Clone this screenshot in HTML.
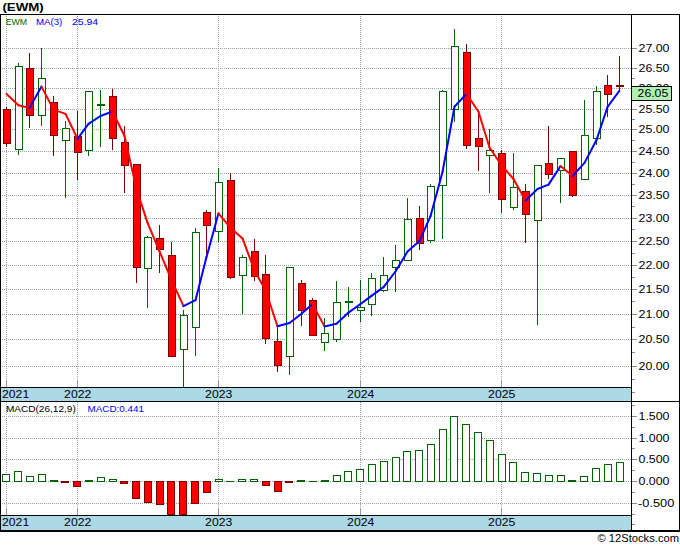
<!DOCTYPE html>
<html><head><meta charset="utf-8"><title>EWM</title>
<style>html,body{margin:0;padding:0;background:#fff;}body{width:680px;height:546px;position:relative;overflow:hidden;font-family:"Liberation Sans",sans-serif;}</style>
</head><body>
<svg width="680" height="546" viewBox="0 0 680 546" style="position:absolute;left:0;top:0" font-family="Liberation Sans, sans-serif">
<defs>
<pattern id="hd" width="2" height="1" patternUnits="userSpaceOnUse"><rect x="0" y="0" width="1" height="1" fill="#a0a0a0"/></pattern>
<pattern id="vd" width="1" height="2" patternUnits="userSpaceOnUse"><rect x="0" y="0" width="1" height="1" fill="#a0a0a0"/></pattern>
<clipPath id="cm"><rect x="1" y="15" width="630" height="372"/></clipPath>
<clipPath id="cd"><rect x="1" y="402" width="630" height="113"/></clipPath>
</defs>
<rect width="680" height="546" fill="#fff"/>
<g shape-rendering="crispEdges">
<rect x="1" y="48" width="630" height="1" fill="url(#hd)"/>
<rect x="1" y="68" width="630" height="1" fill="url(#hd)"/>
<rect x="1" y="88" width="630" height="1" fill="url(#hd)"/>
<rect x="1" y="109" width="630" height="1" fill="url(#hd)"/>
<rect x="1" y="129" width="630" height="1" fill="url(#hd)"/>
<rect x="1" y="151" width="630" height="1" fill="url(#hd)"/>
<rect x="1" y="173" width="630" height="1" fill="url(#hd)"/>
<rect x="1" y="195" width="630" height="1" fill="url(#hd)"/>
<rect x="1" y="218" width="630" height="1" fill="url(#hd)"/>
<rect x="1" y="241" width="630" height="1" fill="url(#hd)"/>
<rect x="1" y="265" width="630" height="1" fill="url(#hd)"/>
<rect x="1" y="289" width="630" height="1" fill="url(#hd)"/>
<rect x="1" y="314" width="630" height="1" fill="url(#hd)"/>
<rect x="1" y="339" width="630" height="1" fill="url(#hd)"/>
<rect x="1" y="366" width="630" height="1" fill="url(#hd)"/>
<rect x="6" y="15" width="1" height="372" fill="url(#vd)"/>
<rect x="6" y="402" width="1" height="113" fill="url(#vd)"/>
<rect x="6" y="381" width="1" height="6" fill="#9a9a9a"/>
<rect x="6" y="509" width="1" height="6" fill="#9a9a9a"/>
<rect x="77" y="15" width="1" height="372" fill="url(#vd)"/>
<rect x="77" y="402" width="1" height="113" fill="url(#vd)"/>
<rect x="77" y="381" width="1" height="6" fill="#9a9a9a"/>
<rect x="77" y="509" width="1" height="6" fill="#9a9a9a"/>
<rect x="218" y="15" width="1" height="372" fill="url(#vd)"/>
<rect x="218" y="402" width="1" height="113" fill="url(#vd)"/>
<rect x="218" y="381" width="1" height="6" fill="#9a9a9a"/>
<rect x="218" y="509" width="1" height="6" fill="#9a9a9a"/>
<rect x="360" y="15" width="1" height="372" fill="url(#vd)"/>
<rect x="360" y="402" width="1" height="113" fill="url(#vd)"/>
<rect x="360" y="381" width="1" height="6" fill="#9a9a9a"/>
<rect x="360" y="509" width="1" height="6" fill="#9a9a9a"/>
<rect x="501" y="15" width="1" height="372" fill="url(#vd)"/>
<rect x="501" y="402" width="1" height="113" fill="url(#vd)"/>
<rect x="501" y="381" width="1" height="6" fill="#9a9a9a"/>
<rect x="501" y="509" width="1" height="6" fill="#9a9a9a"/>
<rect x="1" y="416" width="630" height="1" fill="url(#hd)"/>
<rect x="1" y="438" width="630" height="1" fill="url(#hd)"/>
<rect x="1" y="459" width="630" height="1" fill="url(#hd)"/>
<rect x="1" y="481" width="630" height="1" fill="url(#hd)"/>
<rect x="1" y="503" width="630" height="1" fill="url(#hd)"/>
<rect x="1" y="388" width="630" height="13" fill="#add8e6"/>
<rect x="1" y="516" width="630" height="14" fill="#add8e6"/>
<rect x="0" y="14" width="680" height="1" fill="#000"/>
<rect x="0" y="14" width="1" height="517" fill="#000"/>
<rect x="679" y="14" width="1" height="517" fill="#000"/>
<rect x="631" y="14" width="1" height="517" fill="#000"/>
<rect x="0" y="387" width="632" height="1" fill="#000"/>
<rect x="0" y="401" width="680" height="1" fill="#000"/>
<rect x="0" y="515" width="632" height="1" fill="#000"/>
<rect x="0" y="530" width="680" height="2" fill="#000"/>
<rect x="632" y="48" width="5" height="1" fill="#8c8c8c"/>
<rect x="632" y="68" width="5" height="1" fill="#8c8c8c"/>
<rect x="632" y="88" width="5" height="1" fill="#8c8c8c"/>
<rect x="632" y="109" width="5" height="1" fill="#8c8c8c"/>
<rect x="632" y="129" width="5" height="1" fill="#8c8c8c"/>
<rect x="632" y="151" width="5" height="1" fill="#8c8c8c"/>
<rect x="632" y="173" width="5" height="1" fill="#8c8c8c"/>
<rect x="632" y="195" width="5" height="1" fill="#8c8c8c"/>
<rect x="632" y="218" width="5" height="1" fill="#8c8c8c"/>
<rect x="632" y="241" width="5" height="1" fill="#8c8c8c"/>
<rect x="632" y="265" width="5" height="1" fill="#8c8c8c"/>
<rect x="632" y="289" width="5" height="1" fill="#8c8c8c"/>
<rect x="632" y="314" width="5" height="1" fill="#8c8c8c"/>
<rect x="632" y="339" width="5" height="1" fill="#8c8c8c"/>
<rect x="632" y="366" width="5" height="1" fill="#8c8c8c"/>
<rect x="632" y="78" width="3" height="1" fill="#8c8c8c"/>
<rect x="632" y="98" width="3" height="1" fill="#8c8c8c"/>
<rect x="632" y="119" width="3" height="1" fill="#8c8c8c"/>
<rect x="632" y="140" width="3" height="1" fill="#8c8c8c"/>
<rect x="632" y="162" width="3" height="1" fill="#8c8c8c"/>
<rect x="632" y="184" width="3" height="1" fill="#8c8c8c"/>
<rect x="632" y="206" width="3" height="1" fill="#8c8c8c"/>
<rect x="632" y="229" width="3" height="1" fill="#8c8c8c"/>
<rect x="632" y="253" width="3" height="1" fill="#8c8c8c"/>
<rect x="632" y="277" width="3" height="1" fill="#8c8c8c"/>
<rect x="632" y="301" width="3" height="1" fill="#8c8c8c"/>
<rect x="632" y="327" width="3" height="1" fill="#8c8c8c"/>
<rect x="632" y="352" width="3" height="1" fill="#8c8c8c"/>
<rect x="632" y="379" width="3" height="1" fill="#8c8c8c"/>
<rect x="632" y="392" width="3" height="1" fill="#8c8c8c"/>
<rect x="632" y="416" width="5" height="1" fill="#8c8c8c"/>
<rect x="632" y="438" width="5" height="1" fill="#8c8c8c"/>
<rect x="632" y="459" width="5" height="1" fill="#8c8c8c"/>
<rect x="632" y="481" width="5" height="1" fill="#8c8c8c"/>
<rect x="632" y="503" width="5" height="1" fill="#8c8c8c"/>
<rect x="632" y="405" width="3" height="1" fill="#8c8c8c"/>
<rect x="632" y="427" width="3" height="1" fill="#8c8c8c"/>
<rect x="632" y="448" width="3" height="1" fill="#8c8c8c"/>
<rect x="632" y="470" width="3" height="1" fill="#8c8c8c"/>
<rect x="632" y="492" width="3" height="1" fill="#8c8c8c"/>
<rect x="632" y="514" width="3" height="1" fill="#8c8c8c"/>
<rect x="632" y="524" width="3" height="1" fill="#8c8c8c"/>
</g>
<g shape-rendering="crispEdges" clip-path="url(#cm)">
<rect x="6" y="107" width="1" height="40" fill="#800000"/>
<rect x="3" y="109" width="8" height="35" fill="#800000"/>
<rect x="4" y="110" width="6" height="33" fill="#ff0000"/>
<rect x="18" y="63" width="1" height="92" fill="#006400"/>
<rect x="15" y="66" width="8" height="84" fill="#006400"/>
<rect x="16" y="67" width="6" height="82" fill="#fff"/>
<rect x="29" y="53" width="1" height="75" fill="#800000"/>
<rect x="26" y="68" width="8" height="48" fill="#800000"/>
<rect x="27" y="69" width="6" height="46" fill="#ff0000"/>
<rect x="41" y="48" width="1" height="78" fill="#006400"/>
<rect x="38" y="78" width="8" height="38" fill="#006400"/>
<rect x="39" y="79" width="6" height="36" fill="#fff"/>
<rect x="53" y="96" width="1" height="60" fill="#800000"/>
<rect x="50" y="102" width="8" height="34" fill="#800000"/>
<rect x="51" y="103" width="6" height="32" fill="#ff0000"/>
<rect x="65" y="121" width="1" height="77" fill="#006400"/>
<rect x="62" y="128" width="8" height="13" fill="#006400"/>
<rect x="63" y="129" width="6" height="11" fill="#fff"/>
<rect x="77" y="111" width="1" height="69" fill="#800000"/>
<rect x="74" y="136" width="8" height="17" fill="#800000"/>
<rect x="75" y="137" width="6" height="15" fill="#ff0000"/>
<rect x="88" y="91" width="1" height="65" fill="#006400"/>
<rect x="85" y="91" width="8" height="60" fill="#006400"/>
<rect x="86" y="92" width="6" height="58" fill="#fff"/>
<rect x="100" y="90" width="1" height="57" fill="#006400"/>
<rect x="97" y="104" width="8" height="2" fill="#006400"/>
<rect x="112" y="89" width="1" height="61" fill="#800000"/>
<rect x="109" y="96" width="8" height="43" fill="#800000"/>
<rect x="110" y="97" width="6" height="41" fill="#ff0000"/>
<rect x="124" y="126" width="1" height="67" fill="#800000"/>
<rect x="121" y="142" width="8" height="24" fill="#800000"/>
<rect x="122" y="143" width="6" height="22" fill="#ff0000"/>
<rect x="136" y="164" width="1" height="119" fill="#800000"/>
<rect x="133" y="164" width="8" height="104" fill="#800000"/>
<rect x="134" y="165" width="6" height="102" fill="#ff0000"/>
<rect x="147" y="236" width="1" height="72" fill="#006400"/>
<rect x="144" y="237" width="8" height="32" fill="#006400"/>
<rect x="145" y="238" width="6" height="30" fill="#fff"/>
<rect x="159" y="225" width="1" height="48" fill="#800000"/>
<rect x="156" y="238" width="8" height="12" fill="#800000"/>
<rect x="157" y="239" width="6" height="10" fill="#ff0000"/>
<rect x="171" y="242" width="1" height="115" fill="#800000"/>
<rect x="168" y="255" width="8" height="102" fill="#800000"/>
<rect x="169" y="256" width="6" height="100" fill="#ff0000"/>
<rect x="183" y="310" width="1" height="77" fill="#006400"/>
<rect x="180" y="315" width="8" height="35" fill="#006400"/>
<rect x="181" y="316" width="6" height="33" fill="#fff"/>
<rect x="195" y="228" width="1" height="128" fill="#006400"/>
<rect x="192" y="232" width="8" height="96" fill="#006400"/>
<rect x="193" y="233" width="6" height="94" fill="#fff"/>
<rect x="206" y="210" width="1" height="44" fill="#800000"/>
<rect x="203" y="212" width="8" height="14" fill="#800000"/>
<rect x="204" y="213" width="6" height="12" fill="#ff0000"/>
<rect x="218" y="168" width="1" height="74" fill="#006400"/>
<rect x="215" y="182" width="8" height="50" fill="#006400"/>
<rect x="216" y="183" width="6" height="48" fill="#fff"/>
<rect x="230" y="173" width="1" height="106" fill="#800000"/>
<rect x="227" y="180" width="8" height="98" fill="#800000"/>
<rect x="228" y="181" width="6" height="96" fill="#ff0000"/>
<rect x="242" y="255" width="1" height="59" fill="#006400"/>
<rect x="239" y="257" width="8" height="19" fill="#006400"/>
<rect x="240" y="258" width="6" height="17" fill="#fff"/>
<rect x="254" y="239" width="1" height="42" fill="#800000"/>
<rect x="251" y="251" width="8" height="26" fill="#800000"/>
<rect x="252" y="252" width="6" height="24" fill="#ff0000"/>
<rect x="265" y="255" width="1" height="89" fill="#800000"/>
<rect x="262" y="274" width="8" height="65" fill="#800000"/>
<rect x="263" y="275" width="6" height="63" fill="#ff0000"/>
<rect x="277" y="327" width="1" height="45" fill="#800000"/>
<rect x="274" y="341" width="8" height="25" fill="#800000"/>
<rect x="275" y="342" width="6" height="23" fill="#ff0000"/>
<rect x="289" y="267" width="1" height="108" fill="#006400"/>
<rect x="286" y="267" width="8" height="90" fill="#006400"/>
<rect x="287" y="268" width="6" height="88" fill="#fff"/>
<rect x="301" y="280" width="1" height="46" fill="#800000"/>
<rect x="298" y="283" width="8" height="28" fill="#800000"/>
<rect x="299" y="284" width="6" height="26" fill="#ff0000"/>
<rect x="312" y="298" width="1" height="38" fill="#800000"/>
<rect x="309" y="300" width="8" height="36" fill="#800000"/>
<rect x="310" y="301" width="6" height="34" fill="#ff0000"/>
<rect x="324" y="318" width="1" height="33" fill="#006400"/>
<rect x="321" y="333" width="8" height="10" fill="#006400"/>
<rect x="322" y="334" width="6" height="8" fill="#fff"/>
<rect x="336" y="281" width="1" height="61" fill="#006400"/>
<rect x="333" y="302" width="8" height="38" fill="#006400"/>
<rect x="334" y="303" width="6" height="36" fill="#fff"/>
<rect x="348" y="287" width="1" height="30" fill="#006400"/>
<rect x="345" y="301" width="8" height="2" fill="#006400"/>
<rect x="360" y="280" width="1" height="42" fill="#006400"/>
<rect x="357" y="307" width="8" height="4" fill="#006400"/>
<rect x="358" y="308" width="6" height="2" fill="#fff"/>
<rect x="371" y="273" width="1" height="43" fill="#006400"/>
<rect x="368" y="278" width="8" height="27" fill="#006400"/>
<rect x="369" y="279" width="6" height="25" fill="#fff"/>
<rect x="383" y="257" width="1" height="35" fill="#006400"/>
<rect x="380" y="275" width="8" height="16" fill="#006400"/>
<rect x="381" y="276" width="6" height="14" fill="#fff"/>
<rect x="395" y="245" width="1" height="47" fill="#006400"/>
<rect x="392" y="260" width="8" height="8" fill="#006400"/>
<rect x="393" y="261" width="6" height="6" fill="#fff"/>
<rect x="407" y="198" width="1" height="63" fill="#006400"/>
<rect x="404" y="219" width="8" height="42" fill="#006400"/>
<rect x="405" y="220" width="6" height="40" fill="#fff"/>
<rect x="419" y="206" width="1" height="44" fill="#800000"/>
<rect x="416" y="218" width="8" height="26" fill="#800000"/>
<rect x="417" y="219" width="6" height="24" fill="#ff0000"/>
<rect x="430" y="184" width="1" height="59" fill="#006400"/>
<rect x="427" y="186" width="8" height="55" fill="#006400"/>
<rect x="428" y="187" width="6" height="53" fill="#fff"/>
<rect x="442" y="90" width="1" height="149" fill="#006400"/>
<rect x="439" y="91" width="8" height="95" fill="#006400"/>
<rect x="440" y="92" width="6" height="93" fill="#fff"/>
<rect x="454" y="29" width="1" height="93" fill="#006400"/>
<rect x="451" y="46" width="8" height="64" fill="#006400"/>
<rect x="452" y="47" width="6" height="62" fill="#fff"/>
<rect x="466" y="44" width="1" height="105" fill="#800000"/>
<rect x="463" y="52" width="8" height="94" fill="#800000"/>
<rect x="464" y="53" width="6" height="92" fill="#ff0000"/>
<rect x="478" y="110" width="1" height="61" fill="#800000"/>
<rect x="475" y="138" width="8" height="9" fill="#800000"/>
<rect x="476" y="139" width="6" height="7" fill="#ff0000"/>
<rect x="489" y="129" width="1" height="64" fill="#006400"/>
<rect x="486" y="150" width="8" height="6" fill="#006400"/>
<rect x="487" y="151" width="6" height="4" fill="#fff"/>
<rect x="501" y="150" width="1" height="63" fill="#800000"/>
<rect x="498" y="153" width="8" height="47" fill="#800000"/>
<rect x="499" y="154" width="6" height="45" fill="#ff0000"/>
<rect x="513" y="153" width="1" height="57" fill="#006400"/>
<rect x="510" y="187" width="8" height="21" fill="#006400"/>
<rect x="511" y="188" width="6" height="19" fill="#fff"/>
<rect x="525" y="184" width="1" height="59" fill="#800000"/>
<rect x="522" y="191" width="8" height="24" fill="#800000"/>
<rect x="523" y="192" width="6" height="22" fill="#ff0000"/>
<rect x="537" y="165" width="1" height="160" fill="#006400"/>
<rect x="534" y="165" width="8" height="56" fill="#006400"/>
<rect x="535" y="166" width="6" height="54" fill="#fff"/>
<rect x="548" y="126" width="1" height="53" fill="#800000"/>
<rect x="545" y="163" width="8" height="12" fill="#800000"/>
<rect x="546" y="164" width="6" height="10" fill="#ff0000"/>
<rect x="560" y="158" width="1" height="45" fill="#006400"/>
<rect x="557" y="158" width="8" height="13" fill="#006400"/>
<rect x="558" y="159" width="6" height="11" fill="#fff"/>
<rect x="572" y="151" width="1" height="46" fill="#800000"/>
<rect x="569" y="151" width="8" height="45" fill="#800000"/>
<rect x="570" y="152" width="6" height="43" fill="#ff0000"/>
<rect x="584" y="100" width="1" height="80" fill="#006400"/>
<rect x="581" y="135" width="8" height="45" fill="#006400"/>
<rect x="582" y="136" width="6" height="43" fill="#fff"/>
<rect x="596" y="86" width="1" height="59" fill="#006400"/>
<rect x="593" y="91" width="8" height="48" fill="#006400"/>
<rect x="594" y="92" width="6" height="46" fill="#fff"/>
<rect x="607" y="75" width="1" height="42" fill="#800000"/>
<rect x="604" y="85" width="8" height="10" fill="#800000"/>
<rect x="605" y="86" width="6" height="8" fill="#ff0000"/>
<rect x="619" y="56" width="1" height="35" fill="#800000"/>
<rect x="616" y="85" width="8" height="2" fill="#800000"/>
</g>
<g clip-path="url(#cm)" fill="none" stroke-width="2" stroke-linecap="round" stroke-linejoin="round">
<line x1="6.5" y1="93.9" x2="18.5" y2="105.2" stroke="#ff0000"/>
<line x1="18.5" y1="105.2" x2="29.5" y2="108.0" stroke="#ff0000"/>
<line x1="29.5" y1="108.0" x2="41.5" y2="86.6" stroke="#0000ff"/>
<line x1="41.5" y1="86.6" x2="53.5" y2="109.6" stroke="#ff0000"/>
<line x1="53.5" y1="109.6" x2="65.5" y2="113.9" stroke="#ff0000"/>
<line x1="65.5" y1="113.9" x2="77.5" y2="138.8" stroke="#ff0000"/>
<line x1="77.5" y1="138.8" x2="88.5" y2="123.9" stroke="#0000ff"/>
<line x1="88.5" y1="123.9" x2="100.5" y2="116.0" stroke="#0000ff"/>
<line x1="100.5" y1="116.0" x2="112.5" y2="111.5" stroke="#0000ff"/>
<line x1="112.5" y1="111.5" x2="124.5" y2="136.0" stroke="#ff0000"/>
<line x1="124.5" y1="136.0" x2="136.5" y2="189.1" stroke="#ff0000"/>
<line x1="136.5" y1="189.1" x2="147.5" y2="222.6" stroke="#ff0000"/>
<line x1="147.5" y1="222.6" x2="159.5" y2="251.4" stroke="#ff0000"/>
<line x1="159.5" y1="251.4" x2="171.5" y2="279.8" stroke="#ff0000"/>
<line x1="171.5" y1="279.8" x2="183.5" y2="306.2" stroke="#ff0000"/>
<line x1="183.5" y1="306.2" x2="195.5" y2="300.2" stroke="#0000ff"/>
<line x1="195.5" y1="300.2" x2="206.5" y2="257.1" stroke="#0000ff"/>
<line x1="206.5" y1="257.1" x2="218.5" y2="213.3" stroke="#0000ff"/>
<line x1="218.5" y1="213.3" x2="230.5" y2="227.8" stroke="#ff0000"/>
<line x1="230.5" y1="227.8" x2="242.5" y2="238.4" stroke="#ff0000"/>
<line x1="242.5" y1="238.4" x2="254.5" y2="270.5" stroke="#ff0000"/>
<line x1="254.5" y1="270.5" x2="265.5" y2="290.3" stroke="#ff0000"/>
<line x1="265.5" y1="290.3" x2="277.5" y2="326.2" stroke="#ff0000"/>
<line x1="277.5" y1="326.2" x2="289.5" y2="323.0" stroke="#0000ff"/>
<line x1="289.5" y1="323.0" x2="301.5" y2="313.7" stroke="#0000ff"/>
<line x1="301.5" y1="313.7" x2="312.5" y2="304.1" stroke="#0000ff"/>
<line x1="312.5" y1="304.1" x2="324.5" y2="326.4" stroke="#ff0000"/>
<line x1="324.5" y1="326.4" x2="336.5" y2="323.7" stroke="#0000ff"/>
<line x1="336.5" y1="323.7" x2="348.5" y2="312.6" stroke="#0000ff"/>
<line x1="348.5" y1="312.6" x2="360.5" y2="304.0" stroke="#0000ff"/>
<line x1="360.5" y1="304.0" x2="371.5" y2="295.9" stroke="#0000ff"/>
<line x1="371.5" y1="295.9" x2="383.5" y2="287.1" stroke="#0000ff"/>
<line x1="383.5" y1="287.1" x2="395.5" y2="271.5" stroke="#0000ff"/>
<line x1="395.5" y1="271.5" x2="407.5" y2="251.6" stroke="#0000ff"/>
<line x1="407.5" y1="251.6" x2="419.5" y2="241.0" stroke="#0000ff"/>
<line x1="419.5" y1="241.0" x2="430.5" y2="216.2" stroke="#0000ff"/>
<line x1="430.5" y1="216.2" x2="442.5" y2="172.0" stroke="#0000ff"/>
<line x1="442.5" y1="172.0" x2="454.5" y2="106.6" stroke="#0000ff"/>
<line x1="454.5" y1="106.6" x2="466.5" y2="93.7" stroke="#0000ff"/>
<line x1="466.5" y1="93.7" x2="478.5" y2="111.8" stroke="#ff0000"/>
<line x1="478.5" y1="111.8" x2="489.5" y2="147.5" stroke="#ff0000"/>
<line x1="489.5" y1="147.5" x2="501.5" y2="165.2" stroke="#ff0000"/>
<line x1="501.5" y1="165.2" x2="513.5" y2="179.0" stroke="#ff0000"/>
<line x1="513.5" y1="179.0" x2="525.5" y2="200.4" stroke="#ff0000"/>
<line x1="525.5" y1="200.4" x2="537.5" y2="189.0" stroke="#0000ff"/>
<line x1="537.5" y1="189.0" x2="548.5" y2="184.6" stroke="#0000ff"/>
<line x1="548.5" y1="184.6" x2="560.5" y2="166.1" stroke="#0000ff"/>
<line x1="560.5" y1="166.1" x2="572.5" y2="176.1" stroke="#ff0000"/>
<line x1="572.5" y1="176.1" x2="584.5" y2="162.9" stroke="#0000ff"/>
<line x1="584.5" y1="162.9" x2="596.5" y2="140.0" stroke="#0000ff"/>
<line x1="596.5" y1="140.0" x2="607.5" y2="107.0" stroke="#0000ff"/>
<line x1="607.5" y1="107.0" x2="619.5" y2="90.7" stroke="#0000ff"/>
</g>
<g shape-rendering="crispEdges" clip-path="url(#cd)">
<rect x="2" y="474" width="8" height="8" fill="#006400"/>
<rect x="3" y="475" width="6" height="6" fill="#fff"/>
<rect x="14" y="471" width="8" height="11" fill="#006400"/>
<rect x="15" y="472" width="6" height="9" fill="#fff"/>
<rect x="26" y="476" width="8" height="6" fill="#006400"/>
<rect x="27" y="477" width="6" height="4" fill="#fff"/>
<rect x="38" y="474" width="8" height="8" fill="#006400"/>
<rect x="39" y="475" width="6" height="6" fill="#fff"/>
<rect x="50" y="480" width="8" height="2" fill="#006400"/>
<rect x="61" y="481" width="8" height="2" fill="#800000"/>
<rect x="73" y="481" width="8" height="6" fill="#800000"/>
<rect x="74" y="482" width="6" height="4" fill="#ff0000"/>
<rect x="85" y="480" width="8" height="2" fill="#006400"/>
<rect x="97" y="477" width="8" height="5" fill="#006400"/>
<rect x="98" y="478" width="6" height="3" fill="#fff"/>
<rect x="109" y="479" width="8" height="3" fill="#006400"/>
<rect x="110" y="480" width="6" height="1" fill="#fff"/>
<rect x="120" y="481" width="8" height="3" fill="#800000"/>
<rect x="121" y="482" width="6" height="1" fill="#ff0000"/>
<rect x="132" y="481" width="8" height="18" fill="#800000"/>
<rect x="133" y="482" width="6" height="16" fill="#ff0000"/>
<rect x="144" y="481" width="8" height="22" fill="#800000"/>
<rect x="145" y="482" width="6" height="20" fill="#ff0000"/>
<rect x="156" y="481" width="8" height="24" fill="#800000"/>
<rect x="157" y="482" width="6" height="22" fill="#ff0000"/>
<rect x="167" y="481" width="8" height="34" fill="#800000"/>
<rect x="168" y="482" width="6" height="32" fill="#ff0000"/>
<rect x="179" y="481" width="8" height="34" fill="#800000"/>
<rect x="180" y="482" width="6" height="32" fill="#ff0000"/>
<rect x="191" y="481" width="8" height="23" fill="#800000"/>
<rect x="192" y="482" width="6" height="21" fill="#ff0000"/>
<rect x="203" y="481" width="8" height="12" fill="#800000"/>
<rect x="204" y="482" width="6" height="10" fill="#ff0000"/>
<rect x="215" y="479" width="8" height="3" fill="#006400"/>
<rect x="216" y="480" width="6" height="1" fill="#fff"/>
<rect x="226" y="481" width="8" height="1" fill="#006400"/>
<rect x="238" y="479" width="8" height="3" fill="#006400"/>
<rect x="239" y="480" width="6" height="1" fill="#fff"/>
<rect x="250" y="479" width="8" height="3" fill="#006400"/>
<rect x="251" y="480" width="6" height="1" fill="#fff"/>
<rect x="262" y="481" width="8" height="5" fill="#800000"/>
<rect x="263" y="482" width="6" height="3" fill="#ff0000"/>
<rect x="274" y="481" width="8" height="11" fill="#800000"/>
<rect x="275" y="482" width="6" height="9" fill="#ff0000"/>
<rect x="285" y="481" width="8" height="2" fill="#800000"/>
<rect x="297" y="480" width="8" height="2" fill="#006400"/>
<rect x="309" y="481" width="8" height="1" fill="#006400"/>
<rect x="321" y="480" width="8" height="2" fill="#006400"/>
<rect x="333" y="475" width="8" height="7" fill="#006400"/>
<rect x="334" y="476" width="6" height="5" fill="#fff"/>
<rect x="344" y="471" width="8" height="11" fill="#006400"/>
<rect x="345" y="472" width="6" height="9" fill="#fff"/>
<rect x="356" y="469" width="8" height="13" fill="#006400"/>
<rect x="357" y="470" width="6" height="11" fill="#fff"/>
<rect x="368" y="464" width="8" height="18" fill="#006400"/>
<rect x="369" y="465" width="6" height="16" fill="#fff"/>
<rect x="380" y="461" width="8" height="21" fill="#006400"/>
<rect x="381" y="462" width="6" height="19" fill="#fff"/>
<rect x="392" y="457" width="8" height="25" fill="#006400"/>
<rect x="393" y="458" width="6" height="23" fill="#fff"/>
<rect x="403" y="451" width="8" height="31" fill="#006400"/>
<rect x="404" y="452" width="6" height="29" fill="#fff"/>
<rect x="415" y="450" width="8" height="32" fill="#006400"/>
<rect x="416" y="451" width="6" height="30" fill="#fff"/>
<rect x="427" y="444" width="8" height="38" fill="#006400"/>
<rect x="428" y="445" width="6" height="36" fill="#fff"/>
<rect x="439" y="429" width="8" height="53" fill="#006400"/>
<rect x="440" y="430" width="6" height="51" fill="#fff"/>
<rect x="450" y="416" width="8" height="66" fill="#006400"/>
<rect x="451" y="417" width="6" height="64" fill="#fff"/>
<rect x="462" y="424" width="8" height="58" fill="#006400"/>
<rect x="463" y="425" width="6" height="56" fill="#fff"/>
<rect x="474" y="432" width="8" height="50" fill="#006400"/>
<rect x="475" y="433" width="6" height="48" fill="#fff"/>
<rect x="486" y="440" width="8" height="42" fill="#006400"/>
<rect x="487" y="441" width="6" height="40" fill="#fff"/>
<rect x="498" y="454" width="8" height="28" fill="#006400"/>
<rect x="499" y="455" width="6" height="26" fill="#fff"/>
<rect x="509" y="462" width="8" height="20" fill="#006400"/>
<rect x="510" y="463" width="6" height="18" fill="#fff"/>
<rect x="521" y="472" width="8" height="10" fill="#006400"/>
<rect x="522" y="473" width="6" height="8" fill="#fff"/>
<rect x="533" y="473" width="8" height="9" fill="#006400"/>
<rect x="534" y="474" width="6" height="7" fill="#fff"/>
<rect x="545" y="475" width="8" height="7" fill="#006400"/>
<rect x="546" y="476" width="6" height="5" fill="#fff"/>
<rect x="557" y="475" width="8" height="7" fill="#006400"/>
<rect x="558" y="476" width="6" height="5" fill="#fff"/>
<rect x="568" y="480" width="8" height="2" fill="#006400"/>
<rect x="580" y="476" width="8" height="6" fill="#006400"/>
<rect x="581" y="477" width="6" height="4" fill="#fff"/>
<rect x="592" y="468" width="8" height="14" fill="#006400"/>
<rect x="593" y="469" width="6" height="12" fill="#fff"/>
<rect x="604" y="464" width="8" height="18" fill="#006400"/>
<rect x="605" y="465" width="6" height="16" fill="#fff"/>
<rect x="616" y="462" width="8" height="20" fill="#006400"/>
<rect x="617" y="463" width="6" height="18" fill="#fff"/>
</g>
<g shape-rendering="crispEdges"><rect x="631" y="86" width="41" height="15" fill="#000"/><rect x="632" y="87" width="39" height="13" fill="#b0f0b0"/></g>
<text x="638.5" y="52" font-size="11" fill="#000008" textLength="31" lengthAdjust="spacingAndGlyphs">27.00</text>
<text x="638.5" y="72" font-size="11" fill="#000008" textLength="31" lengthAdjust="spacingAndGlyphs">26.50</text>
<clipPath id="c26"><rect x="632" y="80" width="47" height="6"/></clipPath>
<g clip-path="url(#c26)">
<text x="638.5" y="92" font-size="11" fill="#000008" textLength="31" lengthAdjust="spacingAndGlyphs">26.00</text>
</g>
<text x="638.5" y="113" font-size="11" fill="#000008" textLength="31" lengthAdjust="spacingAndGlyphs">25.50</text>
<text x="638.5" y="133" font-size="11" fill="#000008" textLength="31" lengthAdjust="spacingAndGlyphs">25.00</text>
<text x="638.5" y="155" font-size="11" fill="#000008" textLength="31" lengthAdjust="spacingAndGlyphs">24.50</text>
<text x="638.5" y="177" font-size="11" fill="#000008" textLength="31" lengthAdjust="spacingAndGlyphs">24.00</text>
<text x="638.5" y="199" font-size="11" fill="#000008" textLength="31" lengthAdjust="spacingAndGlyphs">23.50</text>
<text x="638.5" y="222" font-size="11" fill="#000008" textLength="31" lengthAdjust="spacingAndGlyphs">23.00</text>
<text x="638.5" y="245" font-size="11" fill="#000008" textLength="31" lengthAdjust="spacingAndGlyphs">22.50</text>
<text x="638.5" y="269" font-size="11" fill="#000008" textLength="31" lengthAdjust="spacingAndGlyphs">22.00</text>
<text x="638.5" y="293" font-size="11" fill="#000008" textLength="31" lengthAdjust="spacingAndGlyphs">21.50</text>
<text x="638.5" y="318" font-size="11" fill="#000008" textLength="31" lengthAdjust="spacingAndGlyphs">21.00</text>
<text x="638.5" y="343" font-size="11" fill="#000008" textLength="31" lengthAdjust="spacingAndGlyphs">20.50</text>
<text x="638.5" y="370" font-size="11" fill="#000008" textLength="31" lengthAdjust="spacingAndGlyphs">20.00</text>
<text x="637.6" y="97" font-size="11" fill="#000" textLength="30.6" lengthAdjust="spacingAndGlyphs">26.05</text>
<text x="638.5" y="420" font-size="11" fill="#000008" textLength="31" lengthAdjust="spacingAndGlyphs">1.500</text>
<text x="638.5" y="442" font-size="11" fill="#000008" textLength="31" lengthAdjust="spacingAndGlyphs">1.000</text>
<text x="638.5" y="463" font-size="11" fill="#000008" textLength="31" lengthAdjust="spacingAndGlyphs">0.500</text>
<text x="638.5" y="485" font-size="11" fill="#000008" textLength="31" lengthAdjust="spacingAndGlyphs">0.000</text>
<text x="638" y="507" font-size="11" fill="#000008" textLength="36.3" lengthAdjust="spacingAndGlyphs">-0.500</text>
<text x="2.4" y="10.9" font-size="11" fill="#000" textLength="41.4" lengthAdjust="spacingAndGlyphs" font-weight="bold">(EWM)</text>
<text x="5.7" y="24.6" font-size="9.4" fill="#006400" textLength="21.5" lengthAdjust="spacingAndGlyphs">EWM</text>
<text x="35.9" y="24.6" font-size="9.4" fill="#0000ff" textLength="26.4" lengthAdjust="spacingAndGlyphs">MA(3)</text>
<text x="72" y="24.6" font-size="9.4" fill="#0000ff" textLength="26.2" lengthAdjust="spacingAndGlyphs">25.94</text>
<text x="5.9" y="411.6" font-size="9.4" fill="#000" textLength="69.9" lengthAdjust="spacingAndGlyphs">MACD(26,12,9)</text>
<text x="87.5" y="411.6" font-size="9.4" fill="#0000ff" textLength="56.5" lengthAdjust="spacingAndGlyphs">MACD:0.441</text>
<text x="2" y="397.6" font-size="11" fill="#000008" textLength="27.2" lengthAdjust="spacingAndGlyphs">2021</text>
<text x="2" y="526" font-size="11" fill="#000008" textLength="27.2" lengthAdjust="spacingAndGlyphs">2021</text>
<text x="64.1" y="397.6" font-size="11" fill="#000008" textLength="27.2" lengthAdjust="spacingAndGlyphs">2022</text>
<text x="64.1" y="526" font-size="11" fill="#000008" textLength="27.2" lengthAdjust="spacingAndGlyphs">2022</text>
<text x="205.1" y="397.6" font-size="11" fill="#000008" textLength="27.2" lengthAdjust="spacingAndGlyphs">2023</text>
<text x="205.1" y="526" font-size="11" fill="#000008" textLength="27.2" lengthAdjust="spacingAndGlyphs">2023</text>
<text x="347.1" y="397.6" font-size="11" fill="#000008" textLength="27.2" lengthAdjust="spacingAndGlyphs">2024</text>
<text x="347.1" y="526" font-size="11" fill="#000008" textLength="27.2" lengthAdjust="spacingAndGlyphs">2024</text>
<text x="488.1" y="397.6" font-size="11" fill="#000008" textLength="27.2" lengthAdjust="spacingAndGlyphs">2025</text>
<text x="488.1" y="526" font-size="11" fill="#000008" textLength="27.2" lengthAdjust="spacingAndGlyphs">2025</text>
<text x="597.5" y="541.8" font-size="11" fill="#000" textLength="81.5" lengthAdjust="spacingAndGlyphs">© 12Stocks.com</text>
</svg>
</body></html>
